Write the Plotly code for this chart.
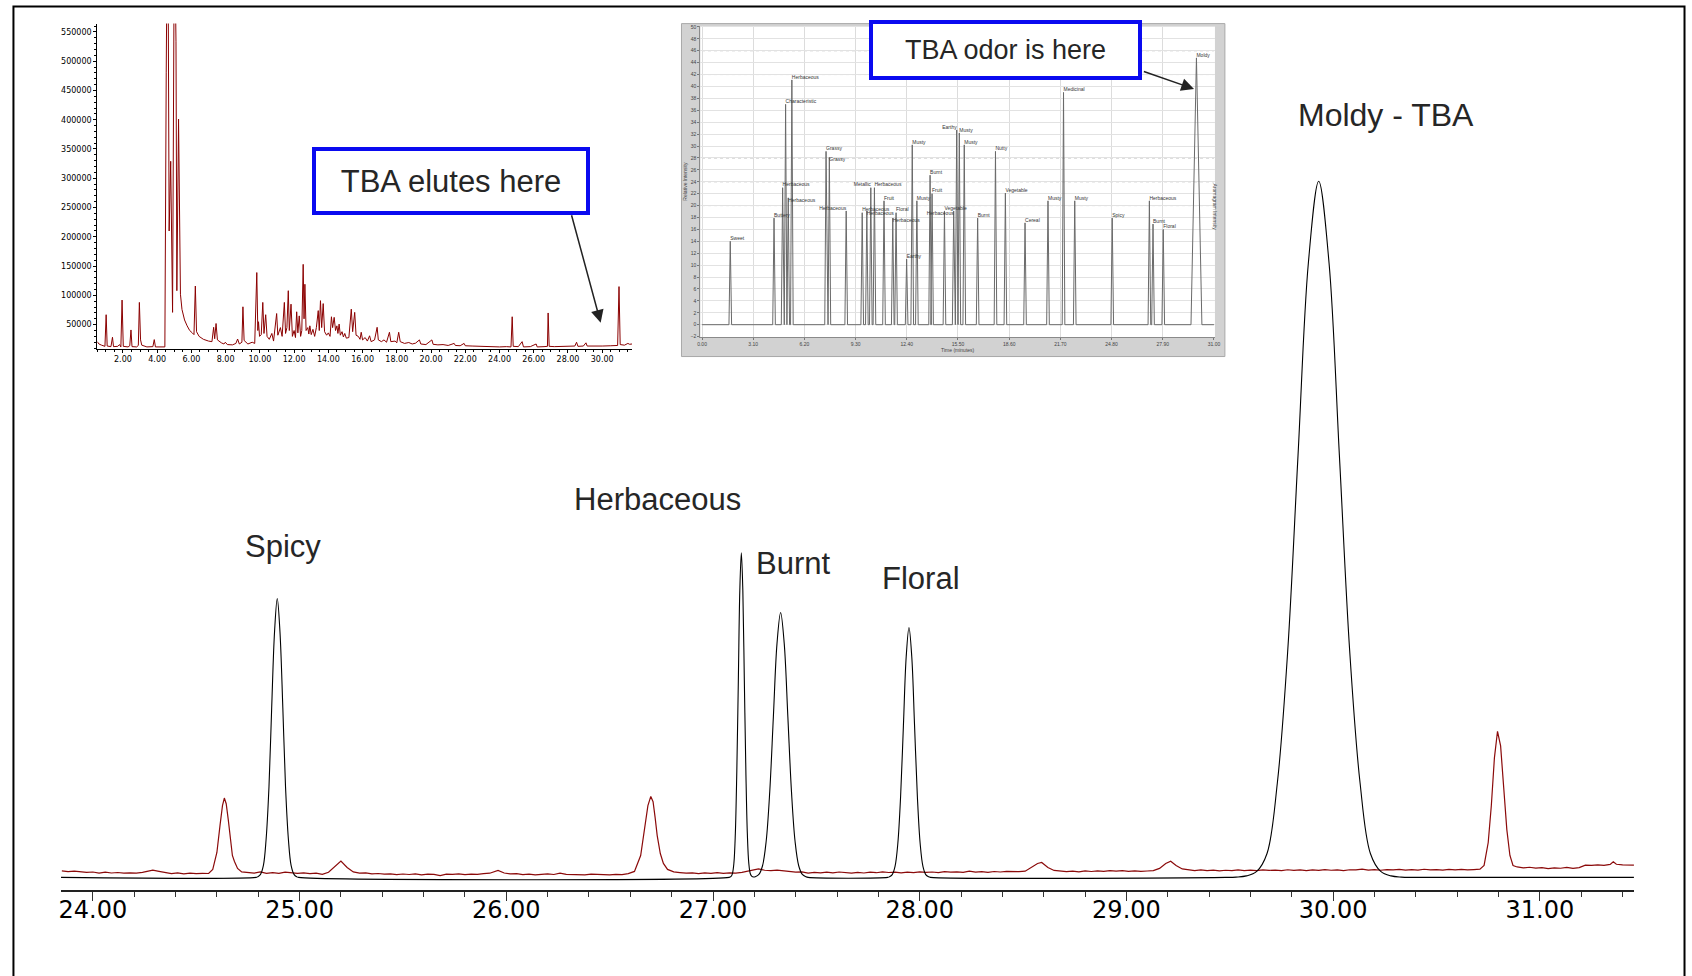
import plotly.graph_objects as go

W, H = 1692, 976

# ---------------- main chromatogram: zoomed region 23.85 - 31.45 min ----------------
main_tick_vals = [24, 25, 26, 27, 28, 29, 30, 31]
main_tick_text = ["24.00", "25.00", "26.00", "27.00", "28.00", "29.00", "30.00", "31.00"]

# olfactometry (sniff) trace, black
sniff_rt = [23.846, 24.790, 24.798, 24.811, 24.825, 24.838, 24.852, 24.865, 24.879, 24.892,
            24.905, 24.919, 24.932, 24.946, 24.959, 24.973, 24.986, 24.995,
            27.078, 27.086, 27.0935, 27.101, 27.108, 27.115, 27.1225, 27.1296, 27.137,
            27.1443, 27.1515, 27.159, 27.166, 27.173, 27.1805, 27.188, 27.196,
            27.2045, 27.222, 27.2395, 27.257, 27.2745, 27.292, 27.3095, 27.327,
            27.3445, 27.362, 27.3795, 27.397, 27.4145, 27.432, 27.4495, 27.46,
            27.845, 27.8535, 27.867, 27.8805, 27.894, 27.9075, 27.921, 27.9345, 27.948,
            27.9615, 27.975, 27.9885, 28.002, 28.0155, 28.029, 28.0425, 28.052,
            29.48, 29.53, 29.58, 29.63, 29.68, 29.73, 29.78, 29.83, 29.88, 29.93,
            29.98, 30.03, 30.08, 30.13, 30.18, 30.23, 30.28, 30.33, 30.38, 31.455]
sniff_int = [0, 0, 0.6, 3, 12, 38, 91, 170, 247, 280,
             247, 170, 91, 38, 12, 3, 0.6, 0,
             0, 0.7, 3.6, 14.3, 44.1, 105.9, 197.7, 287.7, 326,
             287.7, 197.7, 105.9, 44.1, 14.3, 3.6, 1.0, 0.4,
             0.7, 3.0, 11.7, 36, 86.4, 161.3, 234.7, 266,
             234.7, 161.3, 86.4, 36, 11.7, 3.0, 0.6, 0,
             0, 0.55, 2.8, 11, 34, 81.5, 152.2, 221.5, 251,
             221.5, 152.2, 81.5, 34, 11, 2.8, 0.55, 0,
             0, 0.3, 1.5, 6, 24, 95, 227, 424, 617, 699,
             617, 424, 227, 95, 24, 6, 1.5, 0.3, 0, 0]

# mass-spec trace, dark red
ms_rt = [23.85, 23.88, 23.91, 23.94, 23.97, 24.00, 24.03, 24.06, 24.09, 24.12, 24.15, 24.18, 24.21,
         24.24, 24.27, 24.29, 24.32, 24.35, 24.38, 24.41, 24.44, 24.47, 24.50, 24.53, 24.56,
         24.58, 24.60, 24.615, 24.627, 24.636, 24.645, 24.655, 24.665, 24.675, 24.685, 24.70, 24.72,
         24.75, 24.78, 24.81, 24.84, 24.87, 24.90, 24.93, 24.96, 24.99, 25.02, 25.05, 25.08, 25.11,
         25.14, 25.17, 25.20, 25.23, 25.26, 25.29, 25.32, 25.35, 25.38, 25.41, 25.44, 25.47, 25.50,
         25.53, 25.56, 25.59, 25.62, 25.65, 25.68, 25.71, 25.74, 25.77, 25.80, 25.83, 25.86, 25.89,
         25.92, 25.96, 25.99, 26.02, 26.05, 26.08, 26.11, 26.14, 26.17, 26.20, 26.23, 26.26, 26.29,
         26.32, 26.35, 26.38, 26.41, 26.44, 26.47, 26.50, 26.53, 26.56, 26.59,
         26.62, 26.65, 26.67, 26.685, 26.699, 26.71, 26.72, 26.73, 26.745, 26.76, 26.78, 26.81,
         26.84, 26.87, 26.90, 26.93, 26.96, 26.99, 27.02, 27.05, 27.08, 27.11, 27.14, 27.17, 27.20,
         27.22, 27.25, 27.28, 27.31, 27.34, 27.37, 27.40, 27.43, 27.46, 27.49, 27.52, 27.55, 27.58,
         27.61, 27.64, 27.67, 27.70, 27.73, 27.76, 27.79, 27.82, 27.85, 27.88, 27.91, 27.94, 27.97,
         28.00, 28.03, 28.06, 28.09, 28.12, 28.15, 28.18, 28.21, 28.24, 28.27, 28.30, 28.33, 28.36,
         28.39, 28.42, 28.45, 28.48, 28.51, 28.54, 28.57, 28.59, 28.62, 28.65, 28.68, 28.71, 28.74,
         28.77, 28.80, 28.83, 28.86, 28.89, 28.92, 28.95, 28.98, 29.01, 29.04, 29.07, 29.10, 29.13,
         29.16, 29.19, 29.214, 29.24, 29.27, 29.30, 29.33, 29.36, 29.39, 29.42, 29.45, 29.48, 29.51,
         29.54, 29.57, 29.60, 29.63, 29.66, 29.69, 29.72, 29.75, 29.78, 29.81, 29.84, 29.87, 29.90,
         29.93, 29.96, 29.99, 30.02, 30.05, 30.08, 30.11, 30.14, 30.17, 30.20, 30.23, 30.26, 30.29,
         30.32, 30.35, 30.38, 30.41, 30.44, 30.47, 30.50, 30.53, 30.56, 30.59, 30.62, 30.65, 30.68,
         30.71, 30.73, 30.75, 30.765, 30.78, 30.795, 30.81, 30.825, 30.84, 30.855, 30.87, 30.89,
         30.92, 30.95, 30.98, 31.01, 31.04, 31.07, 31.10, 31.13, 31.16, 31.19, 31.22, 31.25, 31.28,
         31.31, 31.34, 31.355, 31.37, 31.40, 31.43, 31.455]
ms_abund = [6.5, 5.8, 6.2, 5.5, 5.0, 5.4, 4.3, 5.2, 4.4, 4.9, 4.2, 4.6, 4.3,
            5.0, 6.3, 7.2, 6.0, 5.0, 3.8, 4.5, 3.6, 4.2, 3.7, 4.0, 3.9,
            8, 25, 52, 72, 79.7, 74, 58, 38, 22, 16, 9, 5.5,
            5.2, 4.2, 5.5, 4.0, 4.8, 4.1, 5.3, 4.9, 4.0, 4.6, 3.8, 4.2, 3.0,
            5.2, 11, 16.3, 10, 5.5, 4.3, 4.5, 3.6, 3.9, 3.2, 3.6, 2.8, 3.4,
            2.9, 3.5, 2.6, 3.3, 3.0, 1.8, 3.2, 3.0, 3.6, 2.8, 3.3, 3.0, 3.8,
            4.2, 7.0, 4.4, 3.5, 3.8, 2.8, 3.2, 2.5, 3.1, 3.5, 2.9, 4.2, 3.0,
            2.8, 3.2, 2.6, 3.3, 2.9, 3.1, 2.5, 3.0, 2.7, 3.8,
            6, 22, 50, 72, 81.3, 76, 60, 42, 24, 14, 8, 5.5,
            4.8, 4.2, 4.5, 3.8, 4.6, 4.0, 4.7, 4.1, 4.5, 4.2, 5.0, 6.5, 7.5,
            8.5, 7.2, 6.8, 7.4, 6.5, 5.8, 5.2, 5.6, 4.4, 5.0, 4.6, 5.2, 4.5,
            5.4, 4.8, 4.2, 5.0, 4.4, 5.3, 4.7, 5.5, 4.9, 5.2, 4.6, 5.3, 4.8,
            5.6, 5.0, 5.4, 4.8, 5.8, 5.2, 5.6, 5.0, 6.2, 5.3, 5.8, 5.1, 5.9,
            5.4, 6.0, 5.5, 5.7, 6.2, 10, 14, 15, 10, 7, 6.5, 5.8, 6.3,
            5.6, 6.5, 5.9, 6.6, 6.0, 6.8, 6.2, 6.9, 6.1, 6.6, 6.0, 6.4, 6.8,
            9, 14, 16.3, 12, 8.5, 7.5, 6.8, 7.6, 6.9, 7.3, 6.5, 7.2, 6.8,
            7.5, 6.7, 7.3, 6.9, 7.6, 7.0, 7.4, 6.8, 7.7, 7.1, 7.5, 6.9, 7.6,
            7.0, 7.8, 7.2, 7.5, 6.9, 7.7, 7.6, 8.3, 7.4, 7.9, 7.2, 7.8, 7.5,
            8.1, 7.4, 7.9, 7.3, 8.2, 7.6, 7.9, 7.4, 8.0, 7.5, 8.1, 7.6, 7.9,
            8.3, 12, 35, 72, 120, 146.7, 132, 90, 48, 22, 12, 10.5,
            9.6, 10.2, 9.3, 9.8, 8.9, 9.6, 9.2, 10.0, 9.0, 9.8, 12.3, 12.0, 12.6,
            12.1, 13.0, 15.7, 13.2, 12.5, 12.8, 12.3]

odor_labels = ["Spicy", "Herbaceous", "Burnt", "Floral", "Moldy - TBA"]

# ---------------- inset 1: full total-ion chromatogram ----------------
tic_rt = [0.50, 0.60, 0.75, 0.95, 1.02, 1.08, 1.30, 1.39, 1.45, 1.70, 1.80, 1.88, 1.95, 2.02,
          2.30, 2.40, 2.47, 2.53, 2.80, 2.90, 2.96, 3.03, 3.10, 3.40, 3.75, 3.83, 3.90, 4.20,
          4.45, 4.53, 4.57, 4.64, 4.70, 4.79, 4.90, 4.99, 5.05, 5.10, 5.15, 5.25, 5.31, 5.36,
          5.45, 5.60, 5.75, 5.90, 6.05, 6.15, 6.23, 6.30, 6.45, 6.70, 7.00, 7.20, 7.30, 7.36,
          7.44, 7.52, 7.75, 7.90, 7.98, 8.10, 8.40, 8.60, 8.70, 8.80, 8.95, 9.01, 9.08, 9.30,
          9.55, 9.70, 9.82, 9.88, 9.92, 9.98, 10.08, 10.17, 10.24, 10.34, 10.42, 10.55, 10.70,
          10.80, 10.98, 11.05, 11.20, 11.30, 11.43, 11.50, 11.58, 11.66, 11.72, 11.82, 11.90,
          12.00, 12.08, 12.15, 12.22, 12.30, 12.38, 12.45, 12.53, 12.58, 12.63, 12.70, 12.80,
          12.86, 12.92, 13.00, 13.10, 13.20, 13.30, 13.41, 13.47, 13.54, 13.61, 13.70, 13.78,
          13.90, 14.00, 14.10, 14.18, 14.25, 14.34, 14.42, 14.50, 14.56, 14.63, 14.70, 14.80,
          14.88, 14.96, 15.05, 15.20, 15.34, 15.42, 15.54, 15.62, 15.75, 15.85, 15.92, 16.00,
          16.15, 16.28, 16.41, 16.50, 16.70, 16.85, 16.92, 17.10, 17.25, 17.40, 17.57, 17.65,
          17.90, 18.00, 18.11, 18.20, 18.45, 18.70, 18.90, 19.10, 19.32, 19.40, 19.70, 20.05,
          20.12, 20.40, 20.70, 21.00, 21.35, 21.42, 21.70, 21.93, 22.00, 22.40, 22.80, 23.20,
          23.60, 24.00, 24.40, 24.67, 24.74, 24.80, 25.10, 25.32, 25.40, 25.80, 26.14, 26.20,
          26.60, 26.80, 26.84, 26.90, 27.20, 27.60, 28.00, 28.40, 28.50, 28.58, 28.90, 29.05,
          29.12, 29.60, 30.00, 30.50, 30.90, 30.98, 31.05, 31.30, 31.50, 31.60, 31.74]
tic_abund = [21000, 17000, 15000, 13000, 67000, 13500, 12500, 28500, 12500, 13000, 16000, 12000,
             92000, 13000, 12000, 14000, 41000, 12500, 12000, 14500, 88000, 24000, 15000, 12000,
             12500, 24500, 12000, 11500, 12000, 480000, 650000, 650000, 210000, 329000, 71000,
             650000, 650000, 533000, 108000, 401000, 187000, 102000, 76000, 58000, 48000, 40000,
             36000, 33000, 116000, 38000, 30000, 25000, 22000, 21000, 45500, 26000, 52000, 24000,
             19000, 17000, 20000, 16000, 15500, 18000, 25500, 17000, 20000, 80500, 23000, 17000,
             20000, 18000, 139000, 40000, 55000, 30000, 33000, 88000, 35000, 67000, 30000, 25000,
             35000, 22000, 69000, 32000, 45000, 30000, 88000, 35000, 45000, 108000, 40000, 85000,
             30000, 40000, 28000, 72000, 36000, 65000, 30000, 40000, 153000, 60000, 119000, 40000,
             45000, 34000, 48000, 33000, 42000, 30000, 45000, 74000, 40000, 91000, 45000, 86000,
             38000, 32000, 36000, 30000, 63500, 45000, 62500, 40000, 48000, 35000, 51000, 32000,
             38000, 29000, 35000, 27000, 28000, 76500, 38000, 71000, 32000, 30000, 25000, 37000,
             24000, 28000, 22000, 31000, 21000, 24000, 45500, 24000, 21000, 24000, 20000, 37000,
             21000, 22000, 19000, 37000, 21000, 18000, 19500, 17000, 18500, 24000, 17000, 16000,
             24000, 16500, 15500, 16000, 14500, 18000, 14500, 14000, 18000, 14000, 13500, 13000,
             13500, 12500, 12000, 12500, 12000, 63500, 13000, 12500, 21000, 12000, 12500, 17000,
             12000, 12500, 13000, 70000, 13000, 12500, 13000, 12500, 13500, 20000, 13000, 13500,
             19000, 13500, 13000, 13500, 14000, 14500, 115000, 16000, 15000, 18000, 16500, 17000]
tic_x_ticks = [2, 4, 6, 8, 10, 12, 14, 16, 18, 20, 22, 24, 26, 28, 30]
tic_x_text = ["2.00", "4.00", "6.00", "8.00", "10.00", "12.00", "14.00", "16.00", "18.00",
              "20.00", "22.00", "24.00", "26.00", "28.00", "30.00"]
tic_y_ticks = [50000, 100000, 150000, 200000, 250000, 300000, 350000, 400000, 450000,
               500000, 550000]
tic_y_text = ["50000", "100000", "150000", "200000", "250000", "300000", "350000", "400000",
              "450000", "500000", "550000"]

# ---------------- inset 2: aromagram ----------------
arom_rt = [1.71, 4.36, 4.88, 5.06, 5.22, 5.44, 7.51, 7.71, 8.73, 9.70, 9.98, 10.22, 10.44,
           11.02, 11.55, 11.75, 12.39, 12.73, 13.01, 13.81, 13.93, 14.68, 15.24, 15.42, 15.58,
           15.88, 16.69, 17.77, 18.37, 19.56, 20.95, 21.89, 22.57, 24.84, 27.09, 27.31, 27.93,
           29.94]
arom_h = [14.0, 17.9, 23.0, 37.0, 21.3, 41.1, 29.1, 28.1, 19.1, 18.8, 19.1, 23.0, 23.0,
          20.8, 17.9, 18.8, 11.0, 30.2, 20.8, 25.1, 22.0, 19.1, 19.1, 32.7, 32.2,
          30.2, 17.9, 29.1, 22.1, 17.1, 20.8, 39.0, 20.8, 17.9, 20.8, 16.9, 16.0,
          44.8]
arom_halfwidth = [0.08] * 37 + [0.33]
arom_desc = ["Sweet", "Buttery", "Herbaceous", "Characteristic", "Herbaceous", "Herbaceous",
             "Grassy", "Grassy", "Herbaceous", "Herbaceous", "Herbaceous", "Metallic",
             "Herbaceous", "Fruit", "Herbaceous", "Floral", "Earthy", "Musty", "Musty", "Burnt",
             "Fruit", "Vegetable", "Herbaceous", "Earthy", "Musty", "Musty", "Burnt", "Nutty",
             "Vegetable", "Cereal", "Musty", "Medicinal", "Musty", "Spicy", "Herbaceous",
             "Burnt", "Floral", "Moldy"]
arom_x_ticks = [0, 3.1, 6.2, 9.3, 12.4, 15.5, 18.6, 21.7, 24.8, 27.9, 31.0]
arom_x_text = ["0.00", "3.10", "6.20", "9.30", "12.40", "15.50", "18.60", "21.70", "24.80",
               "27.90", "31.00"]
arom_y_ticks = list(range(-2, 51, 2))
arom_dotted_levels = [20, 24, 28, 42, 46]


def px(x):
    return x / W


def py(y):
    return (H - y) / H


fig = go.Figure()

# main traces
fig.add_trace(go.Scatter(x=ms_rt, y=ms_abund, mode="lines", xaxis="x", yaxis="y",
                         line=dict(color="#8b0a0a", width=1.2), hoverinfo="skip"))
fig.add_trace(go.Scatter(x=sniff_rt, y=sniff_int, mode="lines", xaxis="x", yaxis="y",
                         line=dict(color="#000000", width=1.1, shape="spline"),
                         hoverinfo="skip"))

# inset 1
fig.add_trace(go.Scatter(x=tic_rt, y=tic_abund, mode="lines", xaxis="x2", yaxis="y2",
                         line=dict(color="#8b0000", width=1.0), hoverinfo="skip"))

# inset 2
ag_x, ag_y = [0.0], [0.0]
for rt, h, hw in zip(arom_rt, arom_h, arom_halfwidth):
    ag_x += [rt - hw, rt, rt + hw]
    ag_y += [0, h, 0]
ag_x.append(31.0)
ag_y.append(0)
fig.add_trace(go.Scatter(x=ag_x, y=ag_y, mode="lines", xaxis="x3", yaxis="y3",
                         line=dict(color="#6a6a6a", width=1.0), hoverinfo="skip"))

# tiny peak descriptors; a few are nudged so that neighbouring labels do not collide
label_pos = ["top right"] * len(arom_rt)
for i, rt in enumerate(arom_rt):
    if rt in (5.22, 7.71, 9.98, 11.55):
        label_pos[i] = "bottom right"
    elif rt in (8.73, 10.22, 15.42):
        label_pos[i] = "top left"
    elif rt == 15.24:
        label_pos[i] = "bottom left"
fig.add_trace(go.Scatter(x=arom_rt, y=arom_h, mode="text", text=arom_desc,
                         textposition=label_pos, xaxis="x3", yaxis="y3",
                         textfont=dict(family="Arial", size=5, color="#333333"),
                         hoverinfo="skip"))

shapes = [
    # gray frame of the aromagram screenshot
    dict(type="rect", xref="paper", yref="paper", x0=px(681.7), x1=px(1227.7),
         y0=py(356), y1=py(21.7), fillcolor="#d2d2d2", line=dict(color="#a8a8a8", width=1),
         layer="below"),
    dict(type="rect", xref="paper", yref="paper", x0=px(700.7), x1=px(1217.7),
         y0=py(336.7), y1=py(24), fillcolor="#ffffff", line=dict(width=0), layer="below"),
    # outer border of the whole figure
    dict(type="rect", xref="paper", yref="paper", x0=px(10.5), x1=px(1689.5),
         y0=-0.02, y1=py(4.5), line=dict(color="#000000", width=2), layer="above"),
]
for lev in arom_dotted_levels:
    shapes.append(dict(type="line", xref="x3", yref="y3", x0=0, x1=31.0, y0=lev, y1=lev,
                       line=dict(color="#b4b4b4", width=1, dash="dot"), layer="below"))

label_font = dict(family="Liberation Sans, Arial", size=31, color="#262626")
annotations = [
    dict(text=odor_labels[0], x=px(281.5), y=py(547), xref="paper", yref="paper",
         showarrow=False, font=label_font, xanchor="center", yanchor="middle"),
    dict(text=odor_labels[1], x=px(657.7), y=py(500), xref="paper", yref="paper",
         showarrow=False, font=label_font, xanchor="center", yanchor="middle"),
    dict(text=odor_labels[2], x=px(794), y=py(563.5), xref="paper", yref="paper",
         showarrow=False, font=label_font, xanchor="center", yanchor="middle"),
    dict(text=odor_labels[3], x=px(922), y=py(579), xref="paper", yref="paper",
         showarrow=False, font=label_font, xanchor="center", yanchor="middle"),
    dict(text=odor_labels[4], x=px(1390), y=py(113), xref="paper", yref="paper",
         showarrow=False, font=dict(family="Liberation Sans, Arial", size=32, color="#262626"),
         xanchor="center", yanchor="middle"),
    # callout boxes
    dict(text="TBA elutes here", x=px(450), y=py(179.5), xref="paper", yref="paper",
         showarrow=False, xanchor="center", yanchor="middle",
         font=dict(family="Liberation Sans, Arial", size=31, color="#262626"),
         bgcolor="#ffffff", bordercolor="#0a0af0", borderwidth=4, borderpad=0,
         width=270, height=60),
    dict(text="TBA odor is here", x=px(1007.5), y=py(48.3), xref="paper", yref="paper",
         showarrow=False, xanchor="center", yanchor="middle",
         font=dict(family="Liberation Sans, Arial", size=27, color="#262626"),
         bgcolor="#ffffff", bordercolor="#0a0af0", borderwidth=4, borderpad=0,
         width=265, height=52),
    # arrows
    dict(text="", x=px(600.5), y=py(322), xref="paper", yref="paper", showarrow=True,
         ax=-29.5, ay=-109, arrowhead=2, arrowsize=1.7, arrowwidth=1.5, arrowcolor="#222222"),
    dict(text="", x=px(1196.7), y=py(87.3), xref="paper", yref="paper", showarrow=True,
         ax=-51.7, ay=-18, arrowhead=2, arrowsize=1.7, arrowwidth=1.5, arrowcolor="#222222"),
    # aromagram right-side axis caption
    dict(text="Aromagram Intensity", x=px(1223), y=py(180), xref="paper", yref="paper",
         showarrow=False, textangle=90, font=dict(family="Arial", size=5, color="#444444")),
]

fig.update_layout(
    width=W, height=H,
    margin=dict(l=0, r=0, t=0, b=0, pad=0),
    paper_bgcolor="#ffffff",
    plot_bgcolor="rgba(0,0,0,0)",
    showlegend=False,
    shapes=shapes,
    annotations=annotations,
    # main axes
    xaxis=dict(domain=[px(58.3), px(1638.7)], range=[23.846, 31.455], anchor="y",
               showline=True, linecolor="#222222", linewidth=1.5, ticks="outside",
               ticklen=9, tickwidth=1, tickcolor="#333333", tickmode="array",
               tickvals=main_tick_vals, ticktext=main_tick_text, ticklabelstandoff=-12,
               tickfont=dict(family="DejaVu Sans", size=24, color="#000000"),
               minor=dict(ticks="outside", ticklen=5, tickwidth=1, tickcolor="#333333",
                          tickmode="linear", tick0=24, dtick=0.2, showgrid=False),
               showgrid=False, zeroline=False, fixedrange=True),
    yaxis=dict(domain=[py(891.7), py(100)], range=[-12.7, 779], anchor="x", visible=False,
               fixedrange=True),
    # inset 1
    xaxis2=dict(domain=[px(94.7), px(632)], range=[0.5, 31.74], anchor="y2",
                showline=True, linecolor="#000000", linewidth=1, ticks="outside", ticklen=3,
                tickcolor="#000000", tickmode="array", tickvals=tic_x_ticks,
                ticktext=tic_x_text,
                tickfont=dict(family="DejaVu Sans", size=8, color="#000000"),
                minor=dict(ticks="outside", ticklen=2, tickcolor="#000000",
                           tickmode="linear", tick0=0, dtick=0.5),
                showgrid=False, zeroline=False),
    yaxis2=dict(domain=[py(348.3), py(21.7)], range=[8670, 564100], anchor="x2",
                showline=True, linecolor="#000000", linewidth=1, ticks="outside", ticklen=3,
                tickcolor="#000000", tickmode="array", tickvals=tic_y_ticks,
                ticktext=tic_y_text,
                tickfont=dict(family="DejaVu Sans", size=8, color="#000000"),
                minor=dict(ticks="outside", ticklen=2, tickcolor="#000000",
                           tickmode="linear", tick0=0, dtick=10000),
                showgrid=False, zeroline=False),
    # inset 2
    xaxis3=dict(domain=[px(700.7), px(1217.7)], range=[-0.1, 31.06], anchor="y3",
                showline=True, linecolor="#8a8a8a", linewidth=1, ticks="outside", ticklen=2,
                tickcolor="#777777", tickmode="array", tickvals=arom_x_ticks,
                ticktext=arom_x_text,
                tickfont=dict(family="Arial", size=5, color="#444444"),
                showgrid=True, gridcolor="#dcdcdc", gridwidth=1, zeroline=False,
                title=dict(text="Time (minutes)", standoff=2,
                           font=dict(family="Arial", size=5, color="#444444"))),
    yaxis3=dict(domain=[py(336.7), py(24)], range=[-2.12, 50.17], anchor="x3",
                showline=True, linecolor="#8a8a8a", linewidth=1, ticks="outside", ticklen=2,
                tickcolor="#777777", tickmode="array", tickvals=arom_y_ticks,
                tickfont=dict(family="Arial", size=5, color="#444444"),
                showgrid=True, gridcolor="#e2e2e2", gridwidth=1, zeroline=False,
                title=dict(text="Relative Intensity", standoff=2,
                           font=dict(family="Arial", size=5, color="#444444"))),
)

fig.write_html("out.html", config={"displayModeBar": False},
               post_script="document.body.style.margin='0';document.body.style.overflow='hidden';")
